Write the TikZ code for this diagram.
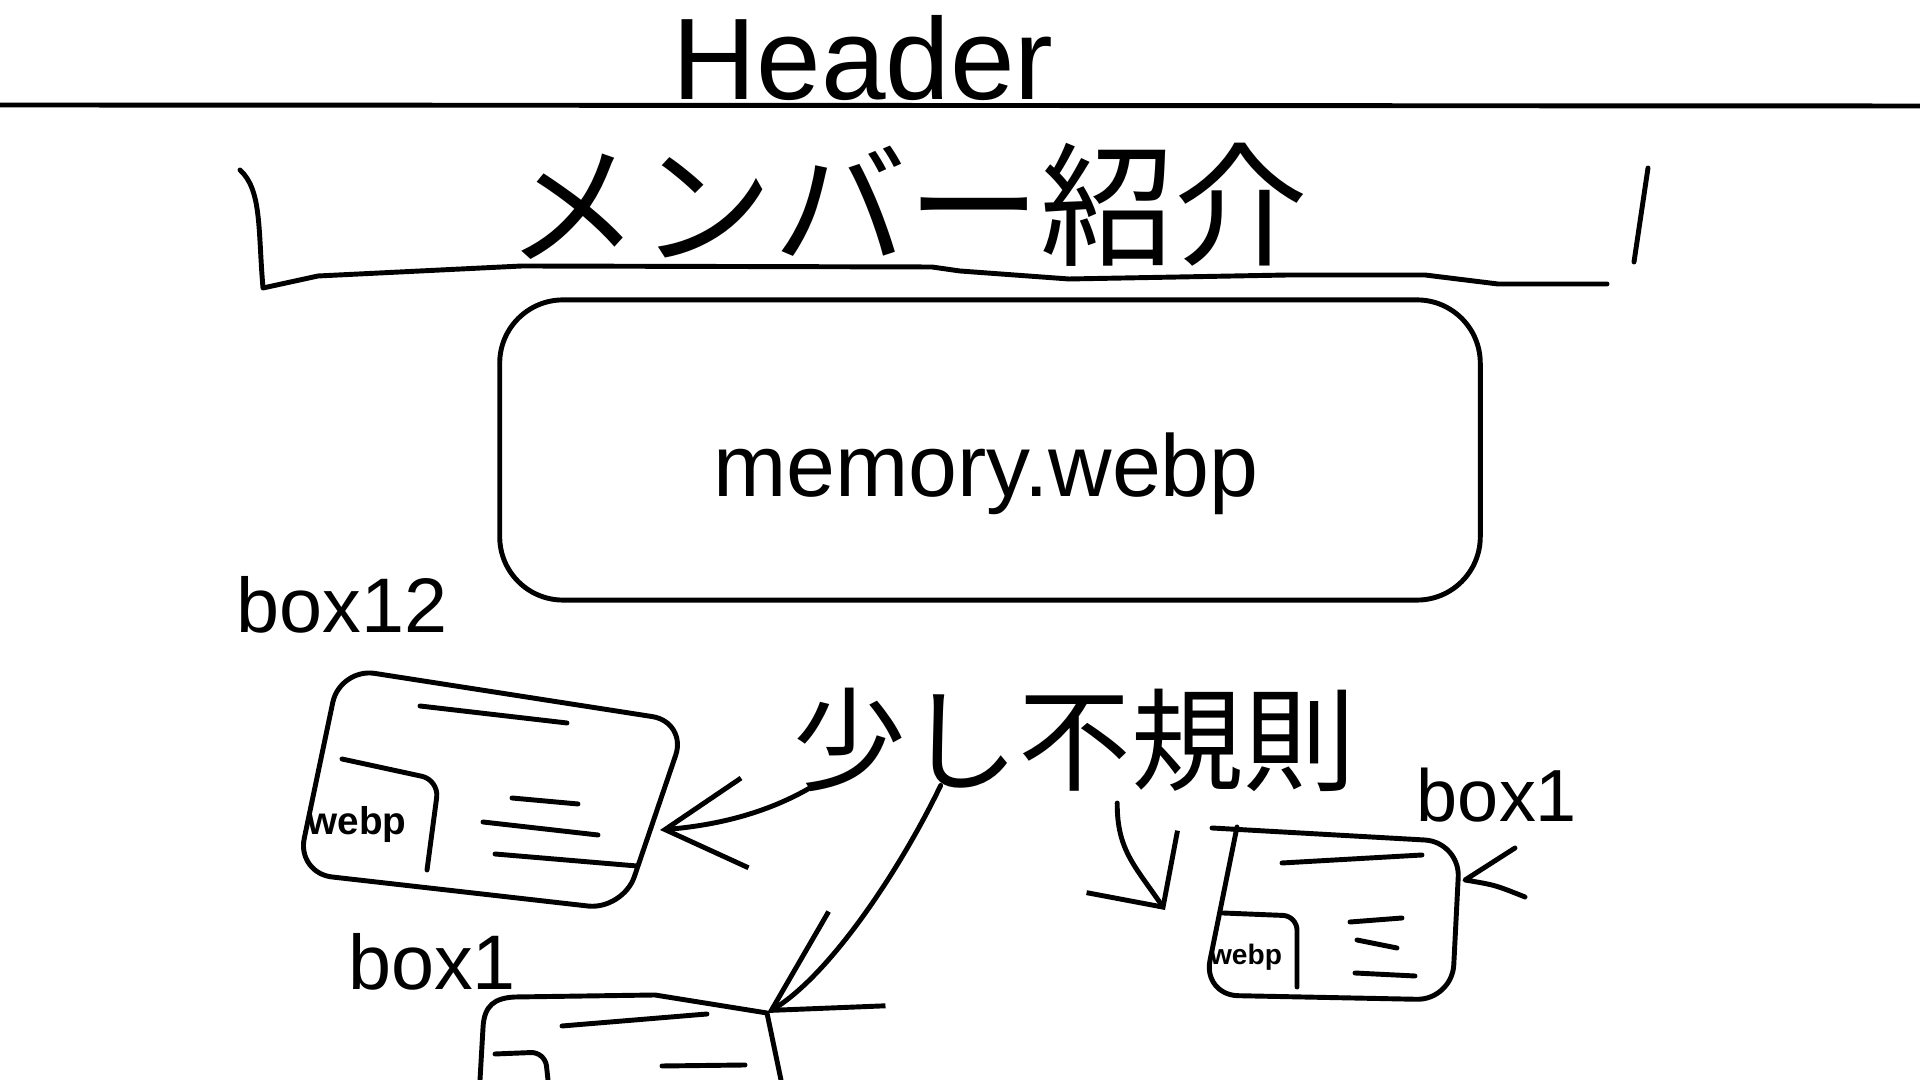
\documentclass[tikz,border=0pt]{standalone}
\usepackage{fontspec}
\setmainfont{Liberation Sans}
\newfontfamily\jpfont{Noto Sans CJK JP}
\usetikzlibrary{arrows.meta,calc}

\tikzset{
  pen/.style={line width=1.4pt,line cap=round,line join=round},
  hand/.style={inner sep=0pt,font=\fontsize{#1}{#1}\selectfont},
  card/.style={pen,rounded corners=10pt},
  membox/.style={pen,draw,rounded corners=18pt,minimum width=9.8cm,minimum height=3cm,inner sep=0pt},
  tipleft/.style={-{Straight Barb[length=0.8cm,width=0.9cm]}},
  tipdown/.style={-{Straight Barb[length=1cm,width=1.1cm]}},
  tipright/.style={-{Straight Barb[length=0.55cm,width=1.1cm]}},
}

\begin{document}
\begin{tikzpicture}[x=0.01cm,y=-0.01cm]
  \useasboundingbox (0,0) rectangle (1920,1080);

  % header
  \node[hand=33pt,anchor=base] (header) at (863,100) {Header};
  \draw[pen] (0,105) -- (1920,106);

  % title bracket
  \node[hand=38pt] (title) at (907,205) {\jpfont メンバー紹介};
  \draw[pen] (240,170) .. controls (262,190) and (258,230) .. (263,288)
    -- (318,276) -- (522,266) -- (932,267) -- (960,271) -- (1069,279)
    -- (1288,275) -- (1425,275) -- (1498,284) -- (1607,284);
  \draw[pen] (1648,168) -- (1634,262);

  % main picture
  \node[membox] (memory) at (990,450) {};
  \node[hand=25pt,anchor=base] (memtext) at (986,497) {memory.webp};

  % box12
  \node[hand=22pt] (lbl12) at (342,605) {box12};
  \draw[card] (340,668) -- (687,722) -- (623,910) -- (297,873) -- cycle;
  \draw[pen] (420,706) -- (567,723);
  \draw[pen,rounded corners=5pt] (342,759) -- (439,780) -- (427,870);
  \node[hand=11pt] (web12) at (357,825) {\bfseries webp};
  \draw[pen] (512,798) -- (578,804);
  \draw[pen] (483,822) -- (598,835);
  \draw[pen] (495,854) -- (637,866);
  \coordinate (tip12) at (660,830);

  % box1, lower left
  \node[hand=22pt] (lblb1) at (432,962) {box1};
  \draw[pen] (480,1080) -- (483,1028) .. controls (484,1005) and (495,998) .. (515,997)
    -- (655,995) -- (767,1013) -- (781,1080);
  \draw[pen] (562,1026) -- (707,1014);
  \draw[pen,rounded corners=4pt] (495,1054) -- (545,1052) -- (548,1080);
  \draw[pen] (662,1066) -- (745,1065);
  \coordinate (btip) at (767,1013);

  % box1, right
  \node[hand=21pt] (lblr1) at (1497,795) {box1};
  \draw[card] (1212,828) -- (1460,842) -- (1452,1000) -- (1203,995) -- (1237,827);
  \draw[pen,rounded corners=4pt] (1223,913) -- (1297,916) -- (1297,987);
  \node[hand=8pt] (webr) at (1246,957) {\bfseries webp};
  \draw[pen] (1282,863) -- (1422,855);
  \draw[pen] (1350,922) -- (1402,918);
  \draw[pen] (1357,940) -- (1397,948);
  \draw[pen] (1355,973) -- (1415,976);
  \coordinate (tipr) at (1165,910);
  \coordinate (chevtip) at (1465,880);
  \draw[pen] (1515,848) -- (chevtip) .. controls (1495,885) .. (1525,897);

  % note and arrows
  \node[hand=32pt] (irr) at (1075,740) {\jpfont 少し不規則};
  \draw[pen,tipleft] ([xshift=6pt,yshift=2pt]irr.south west)
    .. controls (770,812) and (720,825) .. (tip12);
  \draw[pen,tipdown] ([xshift=42pt,yshift=2pt]irr.south west)
    .. controls (900,870) and (830,975) .. (btip);
  \draw[pen,tipright] ([xshift=12pt,yshift=-3pt]irr.south)
    .. controls (1117,850) and (1135,866) .. (tipr);
\end{tikzpicture}
\end{document}
